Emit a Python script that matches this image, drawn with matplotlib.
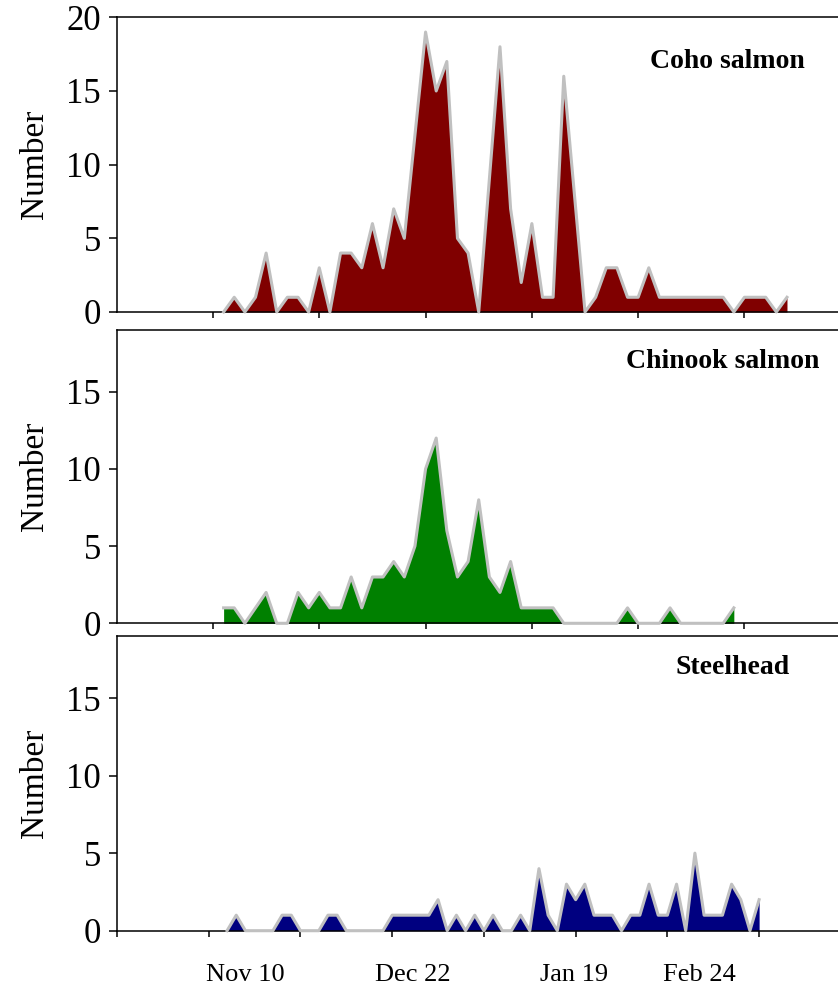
import numpy as np
import matplotlib
matplotlib.use("Agg")
import matplotlib.pyplot as plt

plt.rcParams['font.family'] = ['Liberation Serif', 'DejaVu Serif']

# sample index of each count (one panel per species)
coho_x = list(range(1, 55))
coho = [0, 1, 0, 1, 4, 0, 1, 1, 0, 3,
        0, 4, 4, 3, 6, 3, 7, 5, 12, 19,
        15, 17, 5, 4, 0, 9, 18, 7, 2, 6,
        1, 1, 16, 8, 0, 1, 3, 3, 1, 1,
        3, 1, 1, 1, 1, 1, 1, 1, 0, 1,
        1, 1, 0, 1]

chinook_x = list(range(1, 50))
chinook = [1, 1, 0, 1, 2, 0, 0, 2, 1, 2,
           1, 1, 3, 1, 3, 3, 4, 3, 5, 10,
           12, 6, 3, 4, 8, 3, 2, 4, 1, 1,
           1, 1, 0, 0, 0, 0, 0, 0, 1, 0,
           0, 0, 1, 0, 0, 0, 0, 0, 1]

steel_x = list(range(2, 61))
steel = [0, 1, 0, 0, 0, 0, 1, 1, 0, 0,
         0, 1, 1, 0, 0, 0, 0, 0, 1, 1,
         1, 1, 1, 2, 0, 1, 0, 1, 0, 1,
         0, 0, 1, 0, 4, 1, 0, 3, 2, 3,
         1, 1, 1, 0, 1, 1, 3, 1, 1, 3,
         0, 5, 1, 1, 1, 3, 2, 0, 2]

date_labels = ["Nov 10", "Dec 22", "Jan 19", "Feb 24"]
date_pos = [4.0, 22.2, 39.8, 53.5]

W, H = 838, 986
fig = plt.figure(figsize=(W / 100, H / 100), dpi=100)

def px_axes(left, top, bottom):
    return fig.add_axes([left / W, 1 - bottom / H, 1 - left / W, (bottom - top) / H])

panels = [
    (coho_x, coho, "#800000", "Coho salmon", (17.3, 312.0), (-9.03, 58.8), 20, (727, 62)),
    (chinook_x, chinook, "#008000", "Chinook salmon", (330.0, 623.3), (-9.03, 58.8), 19, (723, 361)),
    (steel_x, steel, "#000080", "Steelhead", (636.0, 930.7), (-10.0, 68.6), 19, (733, 668)),
]

for i, (x, y, col, name, (t, b), xl, ytop, (tx, ty)) in enumerate(panels):
    ax = px_axes(117, t, b)
    ax.fill_between(x, y, 0, color=col, linewidth=0, zorder=2)
    ax.plot(x, y, color="#c0c0c0", lw=2.2, zorder=5, clip_on=False)
    ax.set_xlim(*xl)
    ax.set_ylim(0, ytop)
    ax.set_yticks([0, 5, 10, 15, 20] if ytop == 20 else [0, 5, 10, 15])
    ax.spines['right'].set_visible(False)
    for s in ['left', 'top', 'bottom']:
        ax.spines[s].set_linewidth(1.1)
    ax.tick_params(axis='y', direction='out', length=5.5, width=1.1,
                   labelsize=25, pad=6)
    ax.tick_params(axis='x', direction='out', length=4.5, width=1.1)
    ax.set_ylabel("Number", fontsize=24, labelpad=12)
    fig.text(tx / W, 1 - ty / H, name, fontsize=20, fontweight='bold',
             ha='center', va='center')
    if i < 2:
        ax.set_xticks([0, 10, 20, 30, 40, 50])
        ax.set_xticklabels([])
    else:
        ax.set_xticks(np.arange(-10, 61, 10))
        ax.set_xticklabels([])
        ax.set_xticks(date_pos, minor=True)
        ax.set_xticklabels(date_labels, minor=True)
        ax.tick_params(axis='x', which='minor', length=0, labelsize=19, pad=24)

fig.savefig("out.png", dpi=100)
